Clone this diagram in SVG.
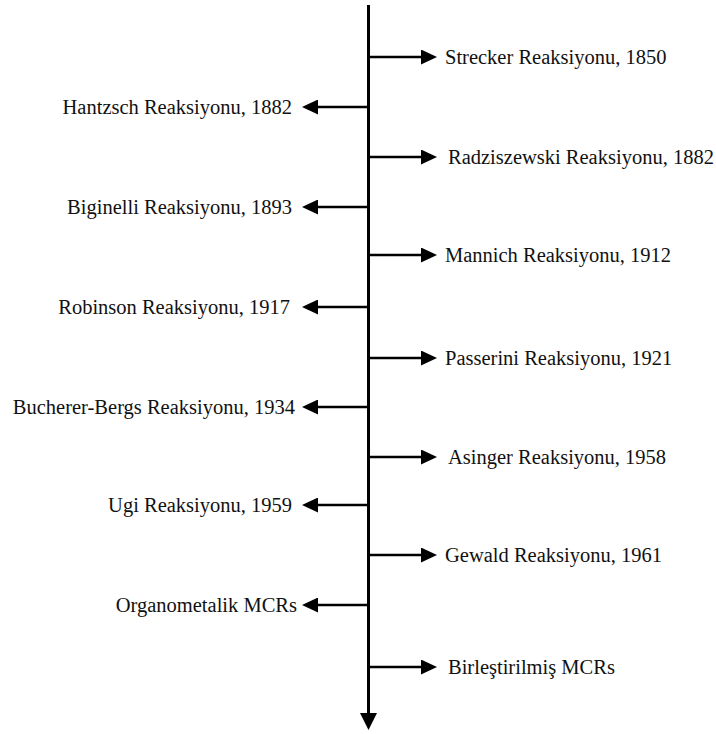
<svg xmlns="http://www.w3.org/2000/svg" width="716" height="734" viewBox="0 0 716 734">
<style>
text{font-family:'Liberation Serif','DejaVu Serif',serif;font-size:20.5px;fill:#111;}
.r{text-anchor:start;}
.l{text-anchor:end;}
.c{stroke:#000;stroke-width:2.5;fill:none;}
.m{stroke:#000;stroke-width:3;fill:none;}
</style>
<defs>
<marker id="ah" markerUnits="userSpaceOnUse" viewBox="0 -7.5 16 15" refX="0" refY="0" markerWidth="16" markerHeight="15" orient="auto">
<path d="M0,-7.5 L16,0 L0,7.5 z" fill="#000"/>
</marker>
<marker id="ahd" markerUnits="userSpaceOnUse" viewBox="0 -8.5 17 17" refX="0" refY="0" markerWidth="17" markerHeight="17" orient="auto">
<path d="M0,-8.5 L17,0 L0,8.5 z" fill="#000"/>
</marker>
</defs>
<g id="connectors">
<line class="m" x1="368.5" y1="5" x2="368.5" y2="713" marker-end="url(#ahd)"/>
<line class="c" x1="368.5" y1="57" x2="421" y2="57" marker-end="url(#ah)"/>
<line class="c" x1="368.5" y1="157" x2="421" y2="157" marker-end="url(#ah)"/>
<line class="c" x1="368.5" y1="255" x2="421" y2="255" marker-end="url(#ah)"/>
<line class="c" x1="368.5" y1="358" x2="421" y2="358" marker-end="url(#ah)"/>
<line class="c" x1="368.5" y1="457" x2="421" y2="457" marker-end="url(#ah)"/>
<line class="c" x1="368.5" y1="555" x2="421" y2="555" marker-end="url(#ah)"/>
<line class="c" x1="368.5" y1="667" x2="421" y2="667" marker-end="url(#ah)"/>
<line class="c" x1="368.5" y1="107" x2="318" y2="107" marker-end="url(#ah)"/>
<line class="c" x1="368.5" y1="207" x2="318" y2="207" marker-end="url(#ah)"/>
<line class="c" x1="368.5" y1="307" x2="318" y2="307" marker-end="url(#ah)"/>
<line class="c" x1="368.5" y1="407" x2="318" y2="407" marker-end="url(#ah)"/>
<line class="c" x1="368.5" y1="505" x2="318" y2="505" marker-end="url(#ah)"/>
<line class="c" x1="368.5" y1="605" x2="318" y2="605" marker-end="url(#ah)"/>
</g>
<g id="strecker"><text class="r" x="445" y="64">Strecker Reaksiyonu, 1850</text></g>
<g id="hantzsch"><text class="l" x="292" y="114">Hantzsch Reaksiyonu, 1882</text></g>
<g id="radziszewski"><text class="r" x="448" y="164">Radziszewski Reaksiyonu, 1882</text></g>
<g id="biginelli"><text class="l" x="292" y="214">Biginelli Reaksiyonu, 1893</text></g>
<g id="mannich"><text class="r" x="445" y="262">Mannich Reaksiyonu, 1912</text></g>
<g id="robinson"><text class="l" x="290" y="314">Robinson Reaksiyonu, 1917</text></g>
<g id="passerini"><text class="r" x="445" y="365">Passerini Reaksiyonu, 1921</text></g>
<g id="bucherer-bergs"><text class="l" x="295" y="414">Bucherer-Bergs Reaksiyonu, 1934</text></g>
<g id="asinger"><text class="r" x="448" y="464">Asinger Reaksiyonu, 1958</text></g>
<g id="ugi"><text class="l" x="292" y="512">Ugi Reaksiyonu, 1959</text></g>
<g id="gewald"><text class="r" x="445" y="562">Gewald Reaksiyonu, 1961</text></g>
<g id="organometalik"><text class="l" x="297" y="612">Organometalik MCRs</text></g>
<g id="birlestirilmis"><text class="r" x="448" y="674">Birleştirilmiş MCRs</text></g>
</svg>
